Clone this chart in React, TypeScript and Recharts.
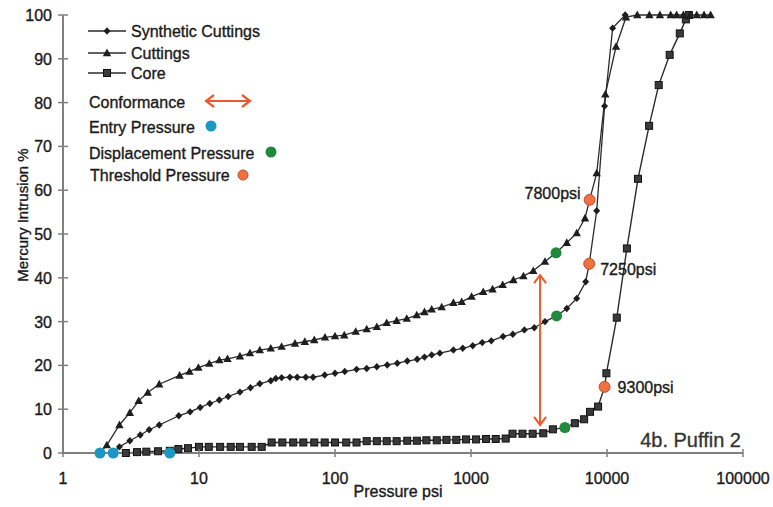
import React from 'react';
import { ComposedChart, Line, Scatter, XAxis, YAxis, ReferenceLine } from 'recharts';

const FONT = '"Liberation Sans", Arial, Helvetica, sans-serif';

const pressureTicks = [1, 10, 100, 1000, 10000, 100000];
const intrusionTicks = [0, 10, 20, 30, 40, 50, 60, 70, 80, 90, 100];

// [pressure psi, mercury intrusion %]
const syntheticCuttings: [number, number][] = [
  [2.34, 0], [2.6, 1.4], [3.1, 2.8], [3.7, 4.1], [4.3, 5.3], [5.1, 6.4], [7.1, 8.5], [8.6, 9.4],
  [10.2, 10.4], [12, 11.3], [14.1, 12.1], [16.4, 12.9], [20, 13.9], [23.9, 14.9], [28, 15.8],
  [33.7, 16.5], [36.7, 17], [40.5, 17.2], [46.6, 17.3], [52.7, 17.3], [61, 17.3], [69, 17.3],
  [84, 17.8], [100, 18.2], [118, 18.6], [144, 19.1], [171, 19.3], [203, 19.7], [242, 20.1],
  [287, 20.5], [340, 21], [402, 21.4], [455, 21.9], [514, 22.4], [590, 22.8], [742, 23.5],
  [870, 23.9], [1030, 24.5], [1210, 25.2], [1410, 25.6], [1720, 26.6], [2030, 27.1], [2470, 28.1],
  [2920, 28.6], [3500, 30], [4260, 31.3], [5060, 33], [5990, 35.3], [6970, 39.1], [7400, 43.2],
  [8400, 55.3], [9600, 79.2], [11000, 97], [13600, 100],
];

const cuttings: [number, number][] = [
  [1.87, 0], [2.1, 1.8], [2.6, 6.4], [3.1, 9.2], [3.6, 11.9], [4.2, 13.8], [5.1, 15.7], [7.2, 17.7],
  [8.5, 18.6], [9.9, 19.5], [11.9, 20.4], [14.1, 21.2], [16.2, 21.5], [20, 22.1], [23.7, 22.8],
  [28, 23.5], [33.7, 23.9], [40.5, 24.3], [50.8, 25], [60, 25.4], [70.4, 25.8], [84.4, 26.4],
  [100, 26.7], [117, 26.9], [142, 27.7], [171, 28.3], [203, 28.8], [240, 29.7], [284, 30.2],
  [337, 30.7], [399, 31.5], [455, 32.2], [514, 32.8], [609, 33.3], [742, 34.3], [855, 34.5],
  [1010, 35.7], [1230, 36.8], [1440, 37.4], [1710, 38.4], [2050, 39.5], [2430, 40.4], [2870, 41.6],
  [3500, 43.7], [4220, 45.7], [5060, 48], [5990, 50.2], [6890, 53.6], [7450, 57.8], [8400, 63.9],
  [9720, 81.9], [11650, 92.8], [13800, 99.5], [16700, 100], [20500, 100], [24500, 100],
  [29400, 100], [32500, 100], [36400, 100], [40800, 100], [45700, 100], [51700, 100], [57800, 100],
];

const core: [number, number][] = [
  [1.87, 0], [2.34, 0], [2.9, 0], [3.5, 0.2], [4.1, 0.3], [5, 0.4], [6.1, 0.5], [7.05, 0.9],
  [8.3, 1.1], [10, 1.4], [11.8, 1.4], [14.3, 1.4], [17.1, 1.4], [20, 1.4], [24.4, 1.4], [28.9, 1.4],
  [34.2, 2.4], [41, 2.4], [49.3, 2.4], [58.5, 2.4], [70.4, 2.4], [84, 2.4], [100, 2.4], [121, 2.4],
  [144, 2.4], [171, 2.7], [203, 2.7], [240, 2.7], [284, 2.7], [340, 2.8], [400, 2.8], [470, 2.9],
  [560, 2.9], [660, 3], [780, 3], [920, 3.1], [1090, 3.1], [1290, 3.2], [1520, 3.2], [1800, 3.3],
  [2020, 4.4], [2390, 4.4], [2840, 4.4], [3400, 4.5], [4000, 5.4], [4900, 5.8], [5800, 6.8],
  [6790, 7.7], [7500, 9.4], [8600, 10.6], [9600, 15.1], [9900, 18.2], [11800, 30.9], [14000, 46.7],
  [16900, 62.6], [20400, 74.7], [24000, 84], [28900, 90.9], [34300, 95.8], [38000, 99], [40000, 100],
];

const entryPressure: [number, number][] = [[1.87, 0], [2.34, 0], [6.1, 0]];
const displacementPressure: [number, number][] = [[4220, 45.7], [4260, 31.3], [4900, 5.8]];
const thresholdPressure: [number, number][] = [[7450, 57.8], [7400, 43.2], [9600, 15.1]];
const thresholdLabels = ['7800psi', '7250psi', '9300psi'];

const conformancePressure = 3220;
const conformanceRange = [6.4, 40.6];

const toRows = (pts: [number, number][], labels?: string[]) =>
  pts.map(([p, v], i) => ({ p, v, label: labels ? labels[i] : undefined }));

const LINE = '#2b2b2b';
const BLUE = '#1b97c2';
const GREEN = '#1f8a3c';
const ORANGE = '#f2703f';
const ARROW = '#ec5a2c';
const INK = '#1a1a1a';

// faux-heavier text, the scan's type is darker than plain regular
const txt = { fontFamily: FONT, fill: INK, stroke: INK, strokeWidth: 0.35 } as const;

const labelOffsets: Record<string, { dx: number; dy: number; anchor: 'start' | 'end' }> = {
  '7800psi': { dx: -9, dy: -1, anchor: 'end' },
  '7250psi': { dx: 11, dy: 11, anchor: 'start' },
  '9300psi': { dx: 13, dy: 6, anchor: 'start' },
};

const diamond = (cx: number, cy: number, key?: any) => (
  <path key={key} d={`M${cx},${cy - 3.7}L${cx + 3.5},${cy}L${cx},${cy + 3.7}L${cx - 3.5},${cy}Z`} fill="#1e1e1e" />
);
const triangle = (cx: number, cy: number, key?: any) => (
  <path key={key} d={`M${cx},${cy - 4.4}L${cx + 4.2},${cy + 3.2}L${cx - 4.2},${cy + 3.2}Z`} fill="#1e1e1e" />
);
const square = (cx: number, cy: number, key?: any) => (
  <rect key={key} x={cx - 3.5} y={cy - 3.5} width={7} height={7} fill="#3a3a3a" stroke="#111" strokeWidth={1} />
);

const XTick = (props: any) => {
  const { x, y, payload } = props;
  return (
    <g>
      <line x1={x} x2={x} y1={y - 4} y2={y + 4} stroke="#808080" strokeWidth={1.5} />
      <text x={x} y={y + 31} textAnchor="middle" fontSize={16} {...txt}>
        {payload.value}
      </text>
    </g>
  );
};

const YTick = (props: any) => {
  const { x, y, payload } = props;
  return (
    <g>
      <line x1={x - 5} x2={x + 5} y1={y} y2={y} stroke="#808080" strokeWidth={1.5} />
      <text x={x - 11} y={y + 6} textAnchor="end" fontSize={16} {...txt}>
        {payload.value}
      </text>
    </g>
  );
};

const ConformanceArrow = (props: any) => {
  const { x1, y1, x2, y2 } = props;
  const top = Math.min(y1, y2);
  const bottom = Math.max(y1, y2);
  return (
    <g stroke={ARROW} strokeWidth={2} fill="none">
      <line x1={x1} x2={x2} y1={top} y2={bottom} />
      <polyline points={`${x1 - 6},${top + 8} ${x1},${top} ${x1 + 6},${top + 8}`} />
      <polyline points={`${x1 - 6},${bottom - 8} ${x1},${bottom} ${x1 + 6},${bottom - 8}`} />
    </g>
  );
};

const Legend = () => {
  const t = { fontSize: 16, ...txt };
  return (
    <svg width={773} height={507} style={{ position: 'absolute', left: 0, top: 0, pointerEvents: 'none' }}>
      <line x1={88} x2={126} y1={31} y2={31} stroke={LINE} strokeWidth={1.3} />
      {diamond(107, 31)}
      <text x={131} y={37} {...t}>Synthetic Cuttings</text>
      <line x1={88} x2={126} y1={53} y2={53} stroke={LINE} strokeWidth={1.3} />
      {triangle(107, 53)}
      <text x={131} y={59} {...t}>Cuttings</text>
      <line x1={88} x2={126} y1={73} y2={73} stroke={LINE} strokeWidth={1.3} />
      {square(107, 73)}
      <text x={131} y={79} {...t}>Core</text>
      <text x={89} y={108} {...t}>Conformance</text>
      <g stroke={ARROW} strokeWidth={2.2} fill="none">
        <line x1={206} x2={250} y1={101} y2={101} />
        <polyline points="214,95 206,101 214,107" />
        <polyline points="242,95 250,101 242,107" />
      </g>
      <text x={89} y={133} {...t}>Entry Pressure</text>
      <circle cx={211} cy={126} r={5.5} fill={BLUE} />
      <text x={89} y={159} {...t}>Displacement Pressure</text>
      <circle cx={271} cy={152} r={5.5} fill={GREEN} />
      <text x={90} y={181} {...t}>Threshold Pressure</text>
      <circle cx={243} cy={175} r={5} fill={ORANGE} stroke="#b8532e" strokeWidth={1} />
      <text x={22} y={215} transform="rotate(-90 22 215)" textAnchor="middle" dominantBaseline="central"
        fontSize={15} {...txt}>Mercury Intrusion %</text>
      <text x={398} y={497} textAnchor="middle" fontSize={16} {...txt}>Pressure psi</text>
      <text x={741} y={447} textAnchor="end" fontSize={20} {...txt} fill="#333" stroke="#333" strokeWidth={0.3}>4b. Puffin 2</text>
    </svg>
  );
};

export default function App() {
  return (
    <div style={{ position: 'absolute', left: 0, top: 0, width: 773, height: 507, background: '#fff' }}>
      <ComposedChart width={773} height={507} margin={{ top: 15, right: 30, bottom: 0, left: 0 }}>
        <XAxis
          dataKey="p"
          type="number"
          scale="log"
          domain={[1, 100000]}
          ticks={pressureTicks}
          allowDataOverflow
          height={54}
          tickLine={false}
          tickSize={0}
          tickMargin={0}
          tick={<XTick />}
          axisLine={{ stroke: '#808080', strokeWidth: 2 }}
          interval={0}
        />
        <YAxis
          dataKey="v"
          type="number"
          domain={[0, 100]}
          ticks={intrusionTicks}
          width={63}
          tickLine={false}
          tickSize={0}
          tickMargin={0}
          tick={<YTick />}
          axisLine={{ stroke: '#808080', strokeWidth: 2 }}
          interval={0}
        />
        <Line
          data={toRows(core)}
          dataKey="v"
          stroke={LINE}
          strokeWidth={1.4}
          isAnimationActive={false}
          dot={(d: any) => square(d.cx, d.cy, `c${d.index}`)}
        />
        <Line
          data={toRows(syntheticCuttings)}
          dataKey="v"
          stroke={LINE}
          strokeWidth={1.3}
          isAnimationActive={false}
          dot={(d: any) => diamond(d.cx, d.cy, `s${d.index}`)}
        />
        <Line
          data={toRows(cuttings)}
          dataKey="v"
          stroke={LINE}
          strokeWidth={1.3}
          isAnimationActive={false}
          dot={(d: any) => triangle(d.cx, d.cy, `t${d.index}`)}
        />
        <ReferenceLine
          segment={[
            { x: conformancePressure, y: conformanceRange[0] },
            { x: conformancePressure, y: conformanceRange[1] },
          ]}
          shape={<ConformanceArrow />}
        />
        <Scatter
          data={toRows(entryPressure)}
          dataKey="v"
          isAnimationActive={false}
          shape={(d: any) => <circle cx={d.cx} cy={d.cy} r={5.5} fill={BLUE} />}
        />
        <Scatter
          data={toRows(displacementPressure)}
          dataKey="v"
          isAnimationActive={false}
          shape={(d: any) => <circle cx={d.cx} cy={d.cy} r={5.5} fill={GREEN} />}
        />
        <Scatter
          data={toRows(thresholdPressure, thresholdLabels)}
          dataKey="v"
          isAnimationActive={false}
          shape={(d: any) => {
            const label = d.payload?.label as string;
            const o = labelOffsets[label];
            return (
              <g>
                <circle cx={d.cx} cy={d.cy} r={5.5} fill={ORANGE} stroke="#b8532e" strokeWidth={1} />
                {o && (
                  <text x={d.cx + o.dx} y={d.cy + o.dy} textAnchor={o.anchor} fontSize={16} {...txt}>
                    {label}
                  </text>
                )}
              </g>
            );
          }}
        />
      </ComposedChart>
      <Legend />
    </div>
  );
}
